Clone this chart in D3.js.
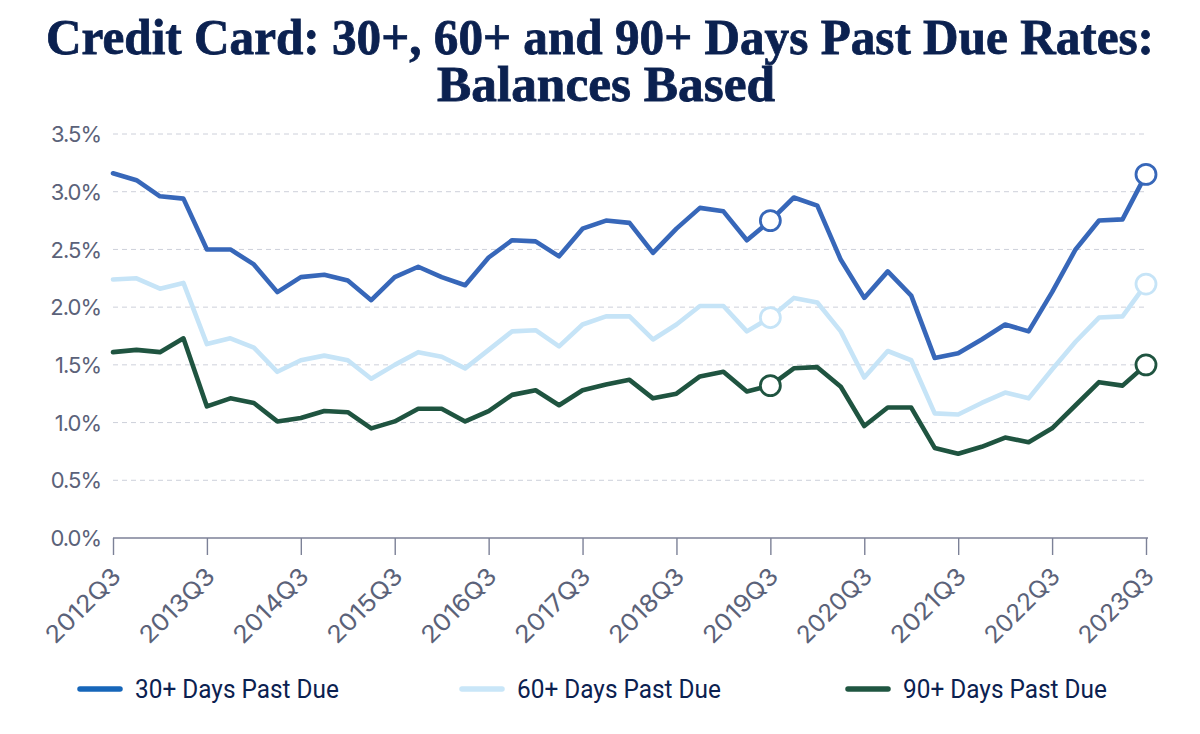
<!DOCTYPE html>
<html><head><meta charset="utf-8">
<script src="https://cdn.jsdelivr.net/npm/d3@7"></script>
<style>html,body{margin:0;padding:0;background:#fff;}svg{display:block;}</style>
</head><body>
<svg id="chart" width="1200" height="734"></svg>
<script>
const quarters = ["2012Q3","2012Q4","2013Q1","2013Q2","2013Q3","2013Q4","2014Q1","2014Q2","2014Q3","2014Q4","2015Q1","2015Q2","2015Q3","2015Q4","2016Q1","2016Q2","2016Q3","2016Q4","2017Q1","2017Q2","2017Q3","2017Q4","2018Q1","2018Q2","2018Q3","2018Q4","2019Q1","2019Q2","2019Q3","2019Q4","2020Q1","2020Q2","2020Q3","2020Q4","2021Q1","2021Q2","2021Q3","2021Q4","2022Q1","2022Q2","2022Q3","2022Q4","2023Q1","2023Q2","2023Q3"];
const tickLabels = ["2012Q3","2013Q3","2014Q3","2015Q3","2016Q3","2017Q3","2018Q3","2019Q3","2020Q3","2021Q3","2022Q3","2023Q3"];
const yTicks = [0,0.5,1.0,1.5,2.0,2.5,3.0,3.5];
const past30 = [3.16,3.10,2.96,2.94,2.50,2.50,2.37,2.13,2.26,2.28,2.23,2.06,2.26,2.35,2.26,2.19,2.43,2.58,2.57,2.44,2.68,2.75,2.73,2.47,2.68,2.86,2.83,2.58,2.75,2.95,2.88,2.41,2.08,2.31,2.10,1.56,1.60,1.72,1.85,1.79,2.13,2.50,2.75,2.76,3.15];
const past60 = [2.24,2.25,2.16,2.21,1.68,1.73,1.65,1.44,1.54,1.58,1.54,1.38,1.50,1.61,1.57,1.47,1.63,1.79,1.80,1.66,1.85,1.92,1.92,1.72,1.85,2.01,2.01,1.79,1.91,2.08,2.04,1.79,1.39,1.62,1.54,1.08,1.07,1.17,1.26,1.21,1.46,1.70,1.91,1.92,2.20];
const past90 = [1.61,1.63,1.61,1.73,1.14,1.21,1.17,1.01,1.04,1.10,1.09,0.95,1.01,1.12,1.12,1.01,1.10,1.24,1.28,1.15,1.28,1.33,1.37,1.21,1.25,1.40,1.44,1.27,1.32,1.47,1.48,1.31,0.97,1.13,1.13,0.78,0.73,0.79,0.87,0.83,0.95,1.15,1.35,1.32,1.50];
const seriesNames = ["30+ Days Past Due","60+ Days Past Due","90+ Days Past Due"];
const markedQuarters = ["2019Q3","2023Q3"];
const title = ["Credit Card: 30+, 60+ and 90+ Days Past Due Rates:","Balances Based"];

const lineColors = ["#3767B9","#C6E4F7","#1F5440"];
const legendColors = ["#1666B9","#C9E6F8","#1F5641"];
const seriesVals = [past30, past60, past90];

const svg = d3.select("#chart");
const x = d3.scalePoint().domain(quarters).range([113,1146]);
const y = d3.scaleLinear().domain([0,3.5]).range([538,134]);

// title
const tg = svg.append("g");
tg.append("text").attr("x",600).attr("y",54).attr("text-anchor","middle")
  .attr("font-family","Liberation Serif, DejaVu Serif, serif").attr("font-weight","bold")
  .attr("font-size",50).attr("fill","#0B2150").attr("stroke","#0B2150").attr("stroke-width",0.8)
  .attr("textLength",1108).attr("lengthAdjust","spacingAndGlyphs").text(title[0]);
tg.append("text").attr("x",606).attr("y",101).attr("text-anchor","middle")
  .attr("font-family","Liberation Serif, DejaVu Serif, serif").attr("font-weight","bold")
  .attr("font-size",50).attr("fill","#0B2150").attr("stroke","#0B2150").attr("stroke-width",0.8)
  .attr("textLength",338).attr("lengthAdjust","spacingAndGlyphs").text(title[1]);

// gridlines
svg.append("g").selectAll("line").data(yTicks.filter(d=>d>0)).join("line")
  .attr("x1",113).attr("x2",1148).attr("y1",d=>y(d)).attr("y2",d=>y(d))
  .attr("stroke","#CDD0DA").attr("stroke-width",1).attr("stroke-dasharray","5,4");

// y axis labels
const yAxis = d3.axisLeft(y).tickValues(yTicks).tickFormat(d=>d3.format(".1f")(d)+"%").tickSize(0).tickPadding(12);
const ya = svg.append("g").attr("transform","translate(113,0)").call(yAxis);
ya.select(".domain").remove();
ya.selectAll("text").attr("font-family","Inter, Lato, sans-serif").attr("font-size",22)
  .attr("fill","#5B6279").attr("letter-spacing","-1").attr("dy","0.35em");

// x axis
const xAxis = d3.axisBottom(x).tickValues(tickLabels).tickSize(17).tickSizeOuter(0).tickPadding(6);
const xa = svg.append("g").attr("transform","translate(0,538)").call(xAxis);
xa.select(".domain").attr("stroke","#7C8197").attr("stroke-width",1.6).attr("d","M113,0H1148");
xa.selectAll(".tick line").attr("stroke","#7C8197").attr("stroke-width",1.4);
xa.selectAll("text").attr("font-family","Inter, Lato, sans-serif").attr("font-size",24)
  .attr("fill","#5B6279").attr("textLength",95).attr("lengthAdjust","spacingAndGlyphs")
  .attr("text-anchor","end").attr("dy","0.35em")
  .attr("transform","translate(3,34) rotate(-45)").attr("y",0).attr("x",0);

// lines
const line = d3.line().x((d,i)=>x(quarters[i])).y(d=>y(d));
svg.append("g").selectAll("path").data(seriesVals).join("path")
  .attr("d",d=>line(d)).attr("fill","none")
  .attr("stroke",(d,i)=>lineColors[i]).attr("stroke-width",4.6)
  .attr("stroke-linejoin","round").attr("stroke-linecap","round");

// circles
const marks = [];
seriesVals.forEach((vals,si)=>markedQuarters.forEach(q=>{
  marks.push({si, q, v: vals[quarters.indexOf(q)]});
}));
svg.append("g").selectAll("circle").data(marks).join("circle")
  .attr("cx",d=>x(d.q)).attr("cy",d=>y(d.v)).attr("r",10)
  .attr("fill","#fff").attr("stroke",d=>lineColors[d.si]).attr("stroke-width",2.8);

// legend
const legX = [78,460,846];
const lg = svg.append("g").selectAll("g").data(seriesNames).join("g")
  .attr("transform",(d,i)=>`translate(${legX[i]},689)`);
lg.append("line").attr("x1",2).attr("x2",42).attr("y1",0).attr("y2",0)
  .attr("stroke",(d,i)=>legendColors[i]).attr("stroke-width",5.5).attr("stroke-linecap","round");
lg.append("text").attr("x",57).attr("y",0).attr("dy","0.35em")
  .attr("font-family","Roboto, sans-serif").attr("font-size",25).attr("fill","#0B2150")
  .attr("textLength",204).attr("lengthAdjust","spacingAndGlyphs")
  .text(d=>d);
</script>
</body></html>
